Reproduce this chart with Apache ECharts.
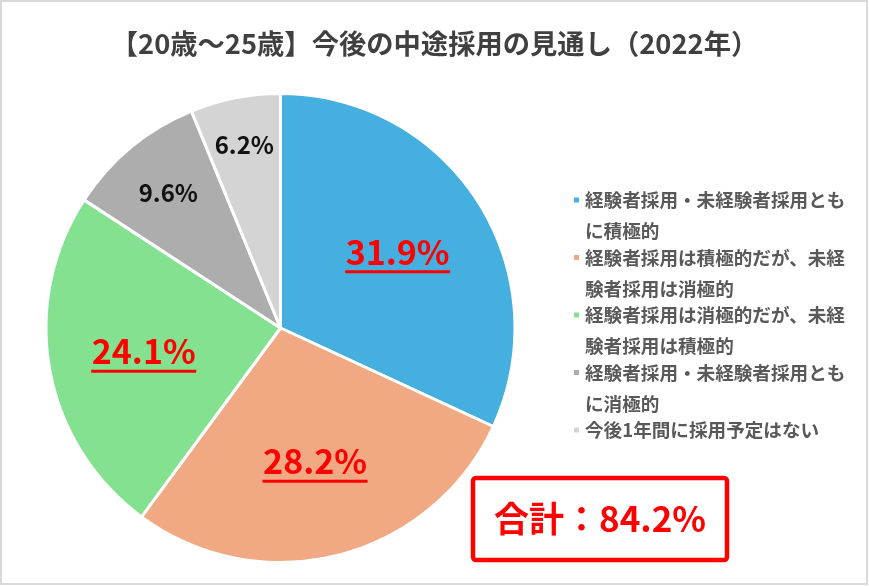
<!DOCTYPE html>
<html>
<head>
<meta charset="utf-8">
<script src="https://cdn.jsdelivr.net/npm/echarts@6/dist/echarts.min.js"></script>
<style>
  html, body { margin: 0; padding: 0; background: #fff; }
  #chart { width: 869px; height: 586px; }
</style>
</head>
<body>
<div id="chart"></div>
<script>
  // 回答区分と構成比（%）
  const categories = [
    '経験者採用・未経験者採用ともに積極的',
    '経験者採用は積極的だが、未経験者採用は消極的',
    '経験者採用は消極的だが、未経験者採用は積極的',
    '経験者採用・未経験者採用ともに消極的',
    '今後1年間に採用予定はない'
  ];
  const shares = [31.9, 28.2, 24.1, 9.6, 6.2];
  const colors = ['#45afe0', '#f1a983', '#84e18f', '#adadad', '#d4d4d4'];
  // 赤字・下線で強調する区分（合計に含める）
  const emphasized = [true, true, true, false, false];

  const FONT = '"Noto Sans CJK JP", "Noto Sans", sans-serif';
  const total = shares.filter((v, i) => emphasized[i]).reduce((a, b) => a + b, 0);

  const chart = echarts.init(document.getElementById('chart'));

  const baseData = categories.map((n, i) => ({ name: n, value: shares[i], itemStyle: { color: colors[i] } }));
  // ラベル用の透明な重ね円（ラベル位置を中心からの距離で調整するため）
  const labelData = (pick) => categories.map((n, i) => ({
    name: n, value: shares[i], label: { show: pick(i) }
  }));
  const ghost = {
    type: 'pie', center: [280.5, 328], startAngle: 90, clockwise: true,
    silent: true, animation: false,
    itemStyle: { color: 'rgba(0,0,0,0)', borderWidth: 0 },
    labelLine: { show: false },
    emphasis: { disabled: true }
  };
  const smallLabel = {
    position: 'inside',
    formatter: (p) => p.value.toFixed(1) + '%',
    fontFamily: FONT, fontSize: 24, fontWeight: 'bold', color: '#111'
  };

  chart.setOption({
    backgroundColor: '#fff',
    title: {
      text: '【20歳～25歳】今後の中途採用の見通し（2022年）',
      left: 'center', top: 25,
      textStyle: { fontFamily: FONT, fontSize: 27.3, fontWeight: 'bold', color: '#404040' }
    },
    legend: {
      orient: 'vertical', left: 572, top: 153.5, padding: 0,
      itemGap: -35.5, itemWidth: 7, itemHeight: 7, icon: 'rect',
      data: categories,
      // 1行14文字で折り返し、マーカーを1行目に揃える
      formatter: (name) => '\n' + name.slice(0, 14) + '\n' + (name.slice(14) || ' '),
      textStyle: { fontFamily: FONT, fontSize: 18.6, fontWeight: 'bold', color: '#595959', lineHeight: 31 }
    },
    graphic: [
      {
        type: 'rect', silent: true,
        shape: { x: 1, y: 1, width: 866, height: 583 },
        style: { fill: 'none', stroke: '#d9d9d9', lineWidth: 2 }
      },
      {
        type: 'rect', silent: true,
        shape: { x: 473, y: 478, width: 254, height: 82, r: 3 },
        style: { fill: '#fff', stroke: '#ff0000', lineWidth: 4.5 }
      },
      {
        type: 'text', silent: true, x: 600, y: 519,
        style: {
          text: '合計：' + total.toFixed(1) + '%',
          align: 'center', verticalAlign: 'middle',
          font: 'bold 35px ' + FONT, fill: '#ff0000'
        }
      }
    ],
    series: [
      {
        type: 'pie', center: [280.5, 328], radius: [0, 234.5],
        startAngle: 90, clockwise: true, animation: false,
        itemStyle: { borderColor: '#fff', borderWidth: 3 },
        label: { show: false }, labelLine: { show: false },
        data: baseData
      },
      Object.assign({}, ghost, {
        radius: [0, 272],
        label: {
          position: 'inside',
          formatter: (p) => '{v|' + p.value.toFixed(1) + '%}\n{u| }',
          rich: {
            v: { fontFamily: FONT, fontSize: 34, fontWeight: 'bold', color: '#ff0000', lineHeight: 37 },
            u: { width: 105, height: 3, lineHeight: 3, fontSize: 1, backgroundColor: '#ff0000' }
          }
        },
        data: labelData((i) => emphasized[i])
      }),
      Object.assign({}, ghost, {
        radius: [0, 346],
        label: smallLabel,
        data: labelData((i) => i === 3)
      }),
      Object.assign({}, ghost, {
        radius: [0, 368],
        label: smallLabel,
        data: labelData((i) => i === 4)
      })
    ]
  });
</script>
</body>
</html>
